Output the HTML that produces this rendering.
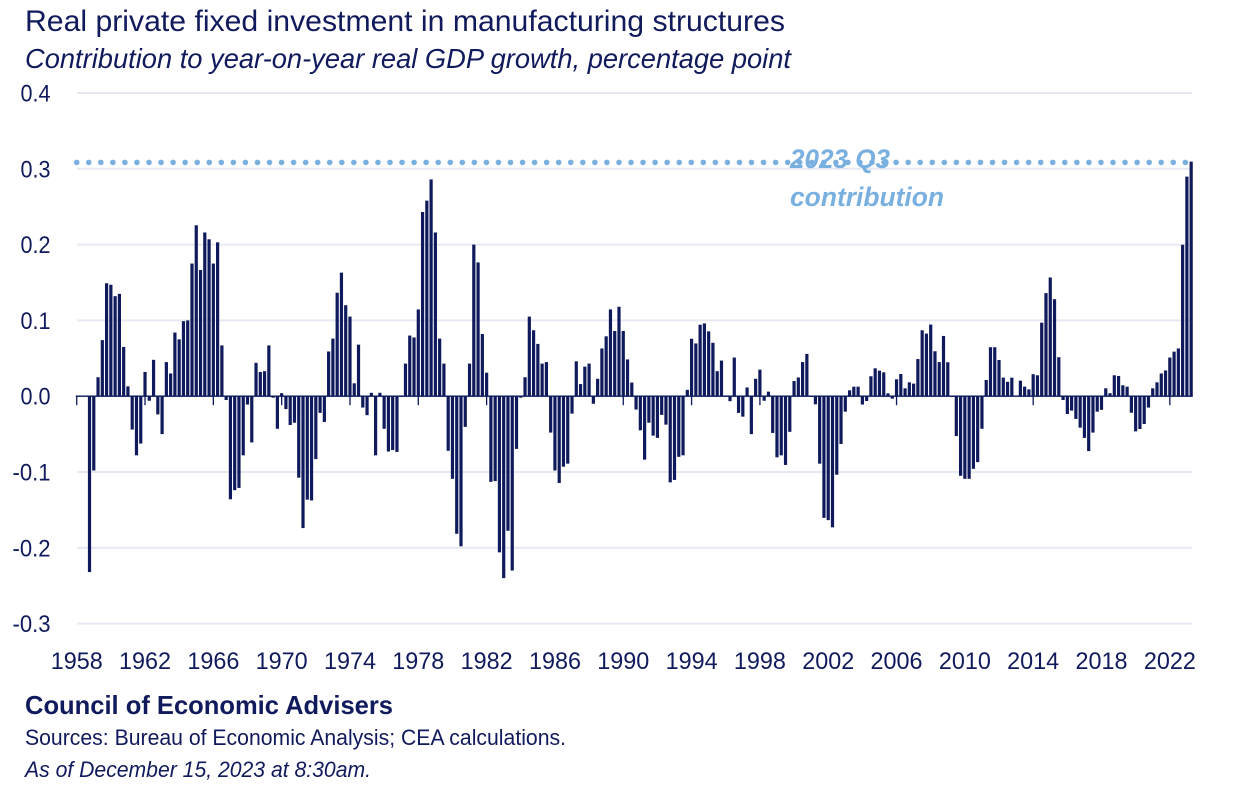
<!DOCTYPE html>
<html lang="en">
<head>
<meta charset="utf-8">
<title>Real private fixed investment in manufacturing structures</title>
<style>
html,body{margin:0;padding:0;background:#fff;}
svg{display:block;}
text{font-family:"Liberation Sans",sans-serif;fill:#101a5c;}
</style>
</head>
<body>
<svg id="chart" xmlns="http://www.w3.org/2000/svg" width="1242" height="812" viewBox="0 0 1242 812">
  <rect width="1242" height="812" fill="#ffffff"/>
  <text x="25" y="31" font-size="29.5" textLength="760" lengthAdjust="spacingAndGlyphs">Real private fixed investment in manufacturing structures</text>
  <text x="25" y="68" font-size="27.5" font-style="italic" textLength="766" lengthAdjust="spacingAndGlyphs">Contribution to year-on-year real GDP growth, percentage point</text>
  <g id="grid"></g>
  <g id="yAxis"></g>
  <g id="bars"></g>
  <g id="xAxis"></g>
  <line id="refLine" stroke="#7ab0e0" stroke-width="5.6" stroke-linecap="round" stroke-dasharray="0 12.05"/>
  <text x="790" y="168" font-size="27" font-style="italic" font-weight="bold" style="fill:#7ab0e0" textLength="100" lengthAdjust="spacingAndGlyphs">2023 Q3</text>
  <text x="790" y="206" font-size="27" font-style="italic" font-weight="bold" style="fill:#7ab0e0" textLength="154" lengthAdjust="spacingAndGlyphs">contribution</text>
  <text x="25" y="714" font-size="26" font-weight="bold" textLength="368" lengthAdjust="spacingAndGlyphs">Council of Economic Advisers</text>
  <text x="25" y="745" font-size="22" textLength="541" lengthAdjust="spacingAndGlyphs">Sources: Bureau of Economic Analysis; CEA calculations.</text>
  <text x="25" y="777" font-size="22" font-style="italic" textLength="346" lengthAdjust="spacingAndGlyphs">As of December 15, 2023 at 8:30am.</text>
</svg>
<script>
const values = [
0,0,0,-0.232,-0.098,0.025,0.074,0.149,0.147,0.132,0.135,0.065,0.013,-0.044,-0.078,-0.0625,
0.032,-0.006,0.048,-0.024,-0.05,0.045,0.03,0.084,0.075,0.099,0.1,0.175,0.2255,0.1665,0.216,0.207,
0.175,0.203,0.067,-0.005,-0.136,-0.124,-0.121,-0.078,-0.011,-0.061,0.044,0.032,0.033,0.067,-0.002,-0.043,
0.004,-0.017,-0.038,-0.035,-0.1075,-0.174,-0.1365,-0.1375,-0.083,-0.022,-0.034,0.059,0.076,0.1365,0.163,0.12,
0.105,0.017,0.068,-0.015,-0.025,0.0045,-0.078,0.0045,-0.043,-0.073,-0.071,-0.0735,-0.001,0.043,0.08,0.0775,
0.1145,0.243,0.258,0.286,0.216,0.076,0.043,-0.072,-0.109,-0.1815,-0.198,-0.0405,0.043,0.2,0.1765,0.082,
0.031,-0.113,-0.112,-0.206,-0.24,-0.1775,-0.23,-0.0695,-0.002,0.025,0.105,0.087,0.069,0.043,0.045,-0.048,
-0.098,-0.1145,-0.093,-0.089,-0.023,0.046,0.016,0.039,0.043,-0.01,0.023,0.063,0.079,0.1145,0.086,0.118,
0.086,0.0485,0.018,-0.0176,-0.045,-0.0837,-0.035,-0.052,-0.055,-0.0247,-0.0375,-0.1137,-0.1105,-0.08,-0.078,0.0084,
0.0758,0.0696,0.0943,0.096,0.0855,0.0705,0.033,0.047,-0.001,-0.0066,0.051,-0.022,-0.027,0.0115,-0.05,0.023,
0.035,-0.006,0.006,-0.0485,-0.0806,-0.078,-0.0907,-0.047,0.02,0.0247,0.045,0.0558,-0.001,-0.0107,-0.089,-0.1605,
-0.1635,-0.173,-0.1036,-0.063,-0.0204,0.0078,0.0126,0.0126,-0.011,-0.0063,0.0263,0.0368,0.0337,0.0315,0.0038,-0.0033,
0.0223,0.0293,0.0104,0.0183,0.0166,0.049,0.087,0.0826,0.0945,0.0593,0.045,0.0795,0.0448,-0.001,-0.0526,-0.105,
-0.109,-0.109,-0.0958,-0.087,-0.043,0.0214,0.0646,0.0646,0.0478,0.0245,0.019,0.0245,0.001,0.0205,0.0126,0.009,
0.029,0.0276,0.097,0.136,0.1566,0.128,0.0514,-0.005,-0.0235,-0.019,-0.03,-0.0415,-0.055,-0.0724,-0.048,-0.0204,
-0.018,0.0104,0.004,0.0276,0.0267,0.0144,0.0126,-0.0218,-0.0464,-0.0433,-0.0367,-0.015,0.0104,0.0183,0.03,0.034,
0.051,0.0588,0.063,0.1998,0.2897,0.3095
];
const yTicks = [0.4, 0.3, 0.2, 0.1, 0, -0.1, -0.2, -0.3];
const yTickLabels = ["0.4", "0.3", "0.2", "0.1", "0.0", "-0.1", "-0.2", "-0.3"];
const xTickLabels = ["1958","1962","1966","1970","1974","1978","1982","1986","1990","1994","1998","2002","2006","2010","2014","2018","2022"];
const quartersPerTick = 16;
const referenceValue = 0.3095;

const NS = "http://www.w3.org/2000/svg";
const NAVY = "#0f1a5c";
function xScale(i) { return 76.7 + 4.27 * i; }
function yScale(v) { return 396.2 - 758 * v; }
function make(parent, tag, attrs) {
  const el = document.createElementNS(NS, tag);
  for (const k in attrs) el.setAttribute(k, attrs[k]);
  parent.appendChild(el);
  return el;
}
const gridG = document.getElementById("grid");
const yG = document.getElementById("yAxis");
const barsG = document.getElementById("bars");
const xG = document.getElementById("xAxis");

yTicks.forEach(function (t, k) {
  const line = make(gridG, "line", {x1: 77, x2: 1192, y1: yScale(t), y2: yScale(t), stroke: "#e6e9f4", "stroke-width": 2});
  
  
  const label = make(yG, "text", {x: 50.5, y: yScale(t) + 8.5, "text-anchor": "end", "font-size": 24, textLength: yTickLabels[k].length === 3 ? 30 : 38, lengthAdjust: "spacingAndGlyphs"});
  label.textContent = yTickLabels[k];
  
  
});

values.forEach(function (v, i) {
  const y0 = yScale(0), y1 = yScale(v);
  const bar = make(barsG, "rect", {x: xScale(i) - 1.6, y: Math.min(y0, y1), width: 3.2, height: Math.abs(y1 - y0), fill: NAVY});
  
  
});

const axisLine = make(xG, "line", {x1: xScale(0) - 1, x2: xScale(values.length - 1) + 1.6, y1: yScale(0), y2: yScale(0), stroke: NAVY, "stroke-width": 1.4});



xTickLabels.forEach(function (lab, k) {
  const x = xScale(k * quartersPerTick);
  const tick = make(xG, "line", {x1: x, x2: x, y1: yScale(0), y2: yScale(0) + 9, stroke: NAVY, "stroke-width": 1.3});
  
  
  const label = make(xG, "text", {x: x, y: 669, "text-anchor": "middle", "font-size": 24, textLength: 52, lengthAdjust: "spacingAndGlyphs"});
  label.textContent = lab;
  
  
});

const ref = document.getElementById("refLine");
ref.setAttribute("x1", xScale(0));
ref.setAttribute("x2", xScale(values.length - 1));
ref.setAttribute("y1", yScale(referenceValue) + 0.8);
ref.setAttribute("y2", yScale(referenceValue) + 0.8);
</script>
</body>
</html>
